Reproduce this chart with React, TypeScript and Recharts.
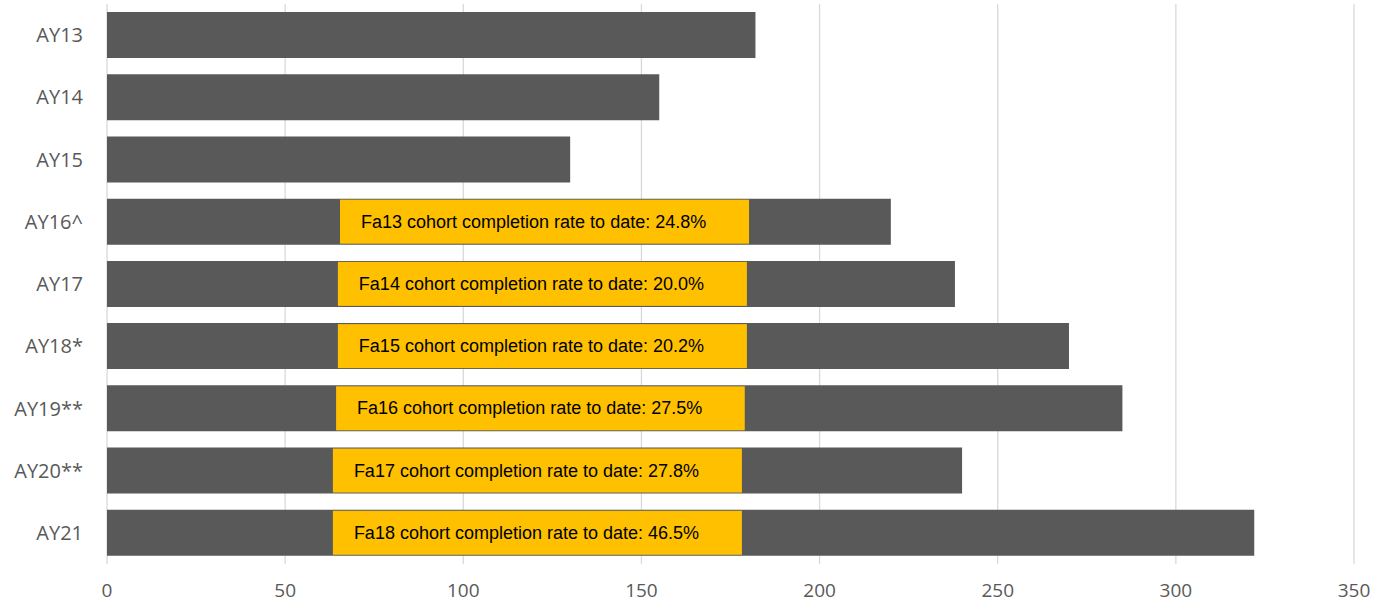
import { BarChart, Bar, XAxis, YAxis, CartesianGrid, LabelList } from "recharts";

const years = ["AY13", "AY14", "AY15", "AY16^", "AY17", "AY18*", "AY19**", "AY20**", "AY21"];
const counts = [182, 155, 130, 220, 238, 270, 285, 240, 322];
const cohorts = ["", "", "", "Fa13", "Fa14", "Fa15", "Fa16", "Fa17", "Fa18"];
const rates = ["", "", "", "24.8%", "20.0%", "20.2%", "27.5%", "27.8%", "46.5%"];
// where the yellow note box starts and ends, in axis units
const boxFrom = [0, 0, 0, 65.4, 64.8, 64.8, 64.3, 63.4, 63.4];
const boxTo = [0, 0, 0, 180.2, 179.6, 179.6, 179.0, 178.2, 178.2];
const xTicks = [0, 50, 100, 150, 200, 250, 300, 350];

const data = years.map((y, i) => ({
  year: y,
  count: counts[i],
  idx: i,
}));

const AXIS_FONT = "'Open Sans', sans-serif";

function NoteBox(props: any) {
  const { x, y, width, height, value } = props;
  const i = value as number;
  if (!cohorts[i]) return null;
  const perUnit = width / counts[i];
  const bx = x + boxFrom[i] * perUnit;
  const bw = (boxTo[i] - boxFrom[i]) * perUnit;
  return (
    <g>
      <rect x={bx} y={y + 1} width={bw} height={height - 2} fill="#FFC000" />
      <text
        x={bx + 21}
        y={y + height / 2}
        dominantBaseline="central"
        fontSize={18}
        fontFamily="'Liberation Sans', Arial, sans-serif"
        fill="#000"
      >
        {`${cohorts[i]} cohort completion rate to date: ${rates[i]}`}
      </text>
    </g>
  );
}

export default function App() {
  return (
    <div style={{ position: "absolute", left: 0, top: 0, background: "#fff" }}>
      <BarChart
        width={1390}
        height={609}
        data={data}
        layout="vertical"
        margin={{ top: 4, right: 36, bottom: 0, left: 0 }}
        barSize={46}
      >
        <CartesianGrid horizontal={false} stroke="#d9d9d9" strokeWidth={1.3} />
        <XAxis
          type="number"
          domain={[0, 350]}
          ticks={xTicks}
          height={45}
          axisLine={false}
          tickLine={false}
          tickSize={0}
          tickMargin={20}
          tick={{ fill: "#595959", fontSize: 19, fontFamily: AXIS_FONT }}
        />
        <YAxis
          type="category"
          dataKey="year"
          width={107}
          axisLine={false}
          tickLine={false}
          tickSize={0}
          tickMargin={24}
          tick={{ fill: "#595959", fontSize: 20, fontFamily: AXIS_FONT }}
        />
        <Bar dataKey="count" fill="#595959" isAnimationActive={false}>
          <LabelList dataKey="idx" content={<NoteBox />} />
        </Bar>
      </BarChart>
    </div>
  );
}
